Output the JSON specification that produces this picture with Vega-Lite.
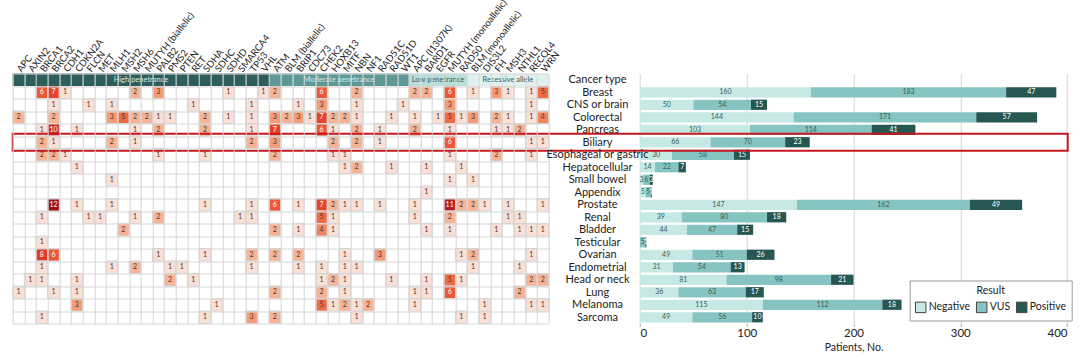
{
  "$schema": "https://vega.github.io/schema/vega-lite/v6.json",
  "width": 1055,
  "height": 250,
  "autosize": {"type": "none"},
  "padding": {"left": 12.7, "top": 73.5, "right": 12.3, "bottom": 35.5},
  "config": {
    "font": "Lato",
    "view": {"stroke": null},
    "axis": {"gridColor": "#d6d6d6", "gridWidth": 1, "labelColor": "#222", "titleColor": "#222"}
  },
  "datasets": {
    "genes": [
      {"g": "APC", "grp": "High", "c": "Cancer type"}, {"g": "AXIN2", "grp": "High", "c": "Cancer type"}, {"g": "BRCA1", "grp": "High", "c": "Cancer type"}, {"g": "BRCA2", "grp": "High", "c": "Cancer type"}, {"g": "CDH1", "grp": "High", "c": "Cancer type"}, {"g": "CDKN2A", "grp": "High", "c": "Cancer type"}, {"g": "FLCN", "grp": "High", "c": "Cancer type"}, {"g": "MET", "grp": "High", "c": "Cancer type"}, {"g": "MLH1", "grp": "High", "c": "Cancer type"}, {"g": "MSH2", "grp": "High", "c": "Cancer type"}, {"g": "MSH6", "grp": "High", "c": "Cancer type"}, {"g": "MUTYH (biallelic)", "grp": "High", "c": "Cancer type"}, {"g": "PALB2", "grp": "High", "c": "Cancer type"}, {"g": "PMS2", "grp": "High", "c": "Cancer type"}, {"g": "PTEN", "grp": "High", "c": "Cancer type"}, {"g": "RET", "grp": "High", "c": "Cancer type"}, {"g": "SDHA", "grp": "High", "c": "Cancer type"}, {"g": "SDHC", "grp": "High", "c": "Cancer type"}, {"g": "SDHD", "grp": "High", "c": "Cancer type"}, {"g": "SMARCA4", "grp": "High", "c": "Cancer type"}, {"g": "TP53", "grp": "High", "c": "Cancer type"}, {"g": "VHL", "grp": "High", "c": "Cancer type"},
      {"g": "ATM", "grp": "Moderate", "c": "Cancer type"}, {"g": "BLM (biallelic)", "grp": "Moderate", "c": "Cancer type"}, {"g": "BRIP1", "grp": "Moderate", "c": "Cancer type"}, {"g": "CDC73", "grp": "Moderate", "c": "Cancer type"}, {"g": "CHEK2", "grp": "Moderate", "c": "Cancer type"}, {"g": "HOXB13", "grp": "Moderate", "c": "Cancer type"}, {"g": "MITF", "grp": "Moderate", "c": "Cancer type"}, {"g": "NBN", "grp": "Moderate", "c": "Cancer type"}, {"g": "NF1", "grp": "Moderate", "c": "Cancer type"}, {"g": "RAD51C", "grp": "Moderate", "c": "Cancer type"}, {"g": "RAD51D", "grp": "Moderate", "c": "Cancer type"}, {"g": "WT1", "grp": "Moderate", "c": "Cancer type"},
      {"g": "APC (I1307K)", "grp": "Low", "c": "Cancer type"}, {"g": "BARD1", "grp": "Low", "c": "Cancer type"}, {"g": "EGFR", "grp": "Low", "c": "Cancer type"}, {"g": "MUTYH (monoallelic)", "grp": "Low", "c": "Cancer type"}, {"g": "RAD50", "grp": "Low", "c": "Cancer type"},
      {"g": "BLM (monoallelic)", "grp": "Recessive", "c": "Cancer type"}, {"g": "DIS3L2", "grp": "Recessive", "c": "Cancer type"}, {"g": "FH", "grp": "Recessive", "c": "Cancer type"}, {"g": "MSH3", "grp": "Recessive", "c": "Cancer type"}, {"g": "NTHL1", "grp": "Recessive", "c": "Cancer type"}, {"g": "RECQL4", "grp": "Recessive", "c": "Cancer type"}, {"g": "WRN", "grp": "Recessive", "c": "Cancer type"}
    ],
    "cells": [
      {"c": "Breast", "g": "BRCA1", "n": 6}, {"c": "Breast", "g": "BRCA2", "n": 7}, {"c": "Breast", "g": "CDH1", "n": 1}, {"c": "Breast", "g": "MSH6", "n": 2}, {"c": "Breast", "g": "PALB2", "n": 3}, {"c": "Breast", "g": "SDHD", "n": 1}, {"c": "Breast", "g": "VHL", "n": 1}, {"c": "Breast", "g": "ATM", "n": 2}, {"c": "Breast", "g": "CHEK2", "n": 6}, {"c": "Breast", "g": "NBN", "n": 2}, {"c": "Breast", "g": "APC (I1307K)", "n": 2}, {"c": "Breast", "g": "BARD1", "n": 2}, {"c": "Breast", "g": "MUTYH (monoallelic)", "n": 6}, {"c": "Breast", "g": "BLM (monoallelic)", "n": 1}, {"c": "Breast", "g": "FH", "n": 3}, {"c": "Breast", "g": "MSH3", "n": 1}, {"c": "Breast", "g": "RECQL4", "n": 1}, {"c": "Breast", "g": "WRN", "n": 5},
      {"c": "CNS or brain", "g": "BRCA2", "n": 1}, {"c": "CNS or brain", "g": "FLCN", "n": 1}, {"c": "CNS or brain", "g": "MLH1", "n": 1}, {"c": "CNS or brain", "g": "RET", "n": 1}, {"c": "CNS or brain", "g": "TP53", "n": 1}, {"c": "CNS or brain", "g": "BRIP1", "n": 1}, {"c": "CNS or brain", "g": "CHEK2", "n": 3}, {"c": "CNS or brain", "g": "NBN", "n": 1}, {"c": "CNS or brain", "g": "WT1", "n": 1}, {"c": "CNS or brain", "g": "MUTYH (monoallelic)", "n": 3}, {"c": "CNS or brain", "g": "RECQL4", "n": 1},
      {"c": "Colorectal", "g": "APC", "n": 2}, {"c": "Colorectal", "g": "BRCA2", "n": 2}, {"c": "Colorectal", "g": "MLH1", "n": 3}, {"c": "Colorectal", "g": "MSH2", "n": 5}, {"c": "Colorectal", "g": "MSH6", "n": 2}, {"c": "Colorectal", "g": "MUTYH (biallelic)", "n": 2}, {"c": "Colorectal", "g": "PALB2", "n": 1}, {"c": "Colorectal", "g": "PMS2", "n": 1}, {"c": "Colorectal", "g": "SDHA", "n": 2}, {"c": "Colorectal", "g": "SDHD", "n": 1}, {"c": "Colorectal", "g": "TP53", "n": 1}, {"c": "Colorectal", "g": "ATM", "n": 3}, {"c": "Colorectal", "g": "BLM (biallelic)", "n": 2}, {"c": "Colorectal", "g": "BRIP1", "n": 3}, {"c": "Colorectal", "g": "CDC73", "n": 1}, {"c": "Colorectal", "g": "CHEK2", "n": 7}, {"c": "Colorectal", "g": "HOXB13", "n": 2}, {"c": "Colorectal", "g": "MITF", "n": 2}, {"c": "Colorectal", "g": "NBN", "n": 1}, {"c": "Colorectal", "g": "RAD51D", "n": 1}, {"c": "Colorectal", "g": "APC (I1307K)", "n": 1}, {"c": "Colorectal", "g": "EGFR", "n": 1}, {"c": "Colorectal", "g": "MUTYH (monoallelic)", "n": 5}, {"c": "Colorectal", "g": "RAD50", "n": 1}, {"c": "Colorectal", "g": "BLM (monoallelic)", "n": 3}, {"c": "Colorectal", "g": "FH", "n": 2}, {"c": "Colorectal", "g": "MSH3", "n": 1}, {"c": "Colorectal", "g": "RECQL4", "n": 1}, {"c": "Colorectal", "g": "WRN", "n": 4},
      {"c": "Pancreas", "g": "BRCA1", "n": 1}, {"c": "Pancreas", "g": "BRCA2", "n": 10}, {"c": "Pancreas", "g": "CDKN2A", "n": 1}, {"c": "Pancreas", "g": "MSH6", "n": 1}, {"c": "Pancreas", "g": "PALB2", "n": 2}, {"c": "Pancreas", "g": "SDHA", "n": 2}, {"c": "Pancreas", "g": "TP53", "n": 1}, {"c": "Pancreas", "g": "ATM", "n": 7}, {"c": "Pancreas", "g": "CHEK2", "n": 6}, {"c": "Pancreas", "g": "HOXB13", "n": 1}, {"c": "Pancreas", "g": "NBN", "n": 2}, {"c": "Pancreas", "g": "RAD51C", "n": 1}, {"c": "Pancreas", "g": "APC (I1307K)", "n": 2}, {"c": "Pancreas", "g": "MUTYH (monoallelic)", "n": 1}, {"c": "Pancreas", "g": "FH", "n": 1}, {"c": "Pancreas", "g": "MSH3", "n": 1}, {"c": "Pancreas", "g": "NTHL1", "n": 2},
      {"c": "Biliary", "g": "BRCA1", "n": 2}, {"c": "Biliary", "g": "BRCA2", "n": 1}, {"c": "Biliary", "g": "MLH1", "n": 2}, {"c": "Biliary", "g": "MSH6", "n": 1}, {"c": "Biliary", "g": "TP53", "n": 2}, {"c": "Biliary", "g": "ATM", "n": 3}, {"c": "Biliary", "g": "HOXB13", "n": 2}, {"c": "Biliary", "g": "NBN", "n": 2}, {"c": "Biliary", "g": "RAD51C", "n": 1}, {"c": "Biliary", "g": "MUTYH (monoallelic)", "n": 6}, {"c": "Biliary", "g": "RECQL4", "n": 1}, {"c": "Biliary", "g": "WRN", "n": 1},
      {"c": "Esophageal or gastric", "g": "BRCA1", "n": 2}, {"c": "Esophageal or gastric", "g": "BRCA2", "n": 2}, {"c": "Esophageal or gastric", "g": "CDH1", "n": 1}, {"c": "Esophageal or gastric", "g": "PALB2", "n": 1}, {"c": "Esophageal or gastric", "g": "SDHA", "n": 1}, {"c": "Esophageal or gastric", "g": "ATM", "n": 2}, {"c": "Esophageal or gastric", "g": "HOXB13", "n": 1}, {"c": "Esophageal or gastric", "g": "MITF", "n": 1}, {"c": "Esophageal or gastric", "g": "MUTYH (monoallelic)", "n": 1}, {"c": "Esophageal or gastric", "g": "FH", "n": 2}, {"c": "Esophageal or gastric", "g": "RECQL4", "n": 1},
      {"c": "Hepatocellular", "g": "CDKN2A", "n": 1}, {"c": "Hepatocellular", "g": "MITF", "n": 1}, {"c": "Hepatocellular", "g": "NBN", "n": 2}, {"c": "Hepatocellular", "g": "RAD51D", "n": 1}, {"c": "Hepatocellular", "g": "BARD1", "n": 1}, {"c": "Hepatocellular", "g": "RAD50", "n": 1},
      {"c": "Small bowel", "g": "MLH1", "n": 1}, {"c": "Small bowel", "g": "MUTYH (monoallelic)", "n": 1}, {"c": "Small bowel", "g": "BLM (monoallelic)", "n": 1},
      {"c": "Appendix", "g": "BARD1", "n": 1},
      {"c": "Prostate", "g": "BRCA2", "n": 12}, {"c": "Prostate", "g": "CDKN2A", "n": 1}, {"c": "Prostate", "g": "MLH1", "n": 1}, {"c": "Prostate", "g": "SDHA", "n": 1}, {"c": "Prostate", "g": "TP53", "n": 1}, {"c": "Prostate", "g": "ATM", "n": 6}, {"c": "Prostate", "g": "BRIP1", "n": 1}, {"c": "Prostate", "g": "CHEK2", "n": 7}, {"c": "Prostate", "g": "HOXB13", "n": 2}, {"c": "Prostate", "g": "MITF", "n": 1}, {"c": "Prostate", "g": "NBN", "n": 1}, {"c": "Prostate", "g": "RAD51C", "n": 1}, {"c": "Prostate", "g": "APC (I1307K)", "n": 1}, {"c": "Prostate", "g": "MUTYH (monoallelic)", "n": 11}, {"c": "Prostate", "g": "RAD50", "n": 2}, {"c": "Prostate", "g": "BLM (monoallelic)", "n": 2}, {"c": "Prostate", "g": "DIS3L2", "n": 1}, {"c": "Prostate", "g": "MSH3", "n": 1}, {"c": "Prostate", "g": "WRN", "n": 1},
      {"c": "Renal", "g": "BRCA1", "n": 1}, {"c": "Renal", "g": "FLCN", "n": 1}, {"c": "Renal", "g": "MET", "n": 1}, {"c": "Renal", "g": "MSH6", "n": 1}, {"c": "Renal", "g": "PALB2", "n": 2}, {"c": "Renal", "g": "SMARCA4", "n": 1}, {"c": "Renal", "g": "TP53", "n": 1}, {"c": "Renal", "g": "CHEK2", "n": 5}, {"c": "Renal", "g": "HOXB13", "n": 1}, {"c": "Renal", "g": "APC (I1307K)", "n": 1}, {"c": "Renal", "g": "MUTYH (monoallelic)", "n": 2}, {"c": "Renal", "g": "MSH3", "n": 1}, {"c": "Renal", "g": "NTHL1", "n": 1},
      {"c": "Bladder", "g": "MSH2", "n": 2}, {"c": "Bladder", "g": "ATM", "n": 2}, {"c": "Bladder", "g": "BRIP1", "n": 1}, {"c": "Bladder", "g": "CHEK2", "n": 4}, {"c": "Bladder", "g": "HOXB13", "n": 1}, {"c": "Bladder", "g": "BARD1", "n": 1}, {"c": "Bladder", "g": "MUTYH (monoallelic)", "n": 1}, {"c": "Bladder", "g": "FH", "n": 1}, {"c": "Bladder", "g": "NTHL1", "n": 1}, {"c": "Bladder", "g": "RECQL4", "n": 1}, {"c": "Bladder", "g": "WRN", "n": 1},
      {"c": "Testicular", "g": "BRCA1", "n": 1},
      {"c": "Ovarian", "g": "BRCA1", "n": 8}, {"c": "Ovarian", "g": "BRCA2", "n": 6}, {"c": "Ovarian", "g": "PALB2", "n": 1}, {"c": "Ovarian", "g": "SDHA", "n": 1}, {"c": "Ovarian", "g": "TP53", "n": 2}, {"c": "Ovarian", "g": "ATM", "n": 2}, {"c": "Ovarian", "g": "BRIP1", "n": 2}, {"c": "Ovarian", "g": "MITF", "n": 1}, {"c": "Ovarian", "g": "RAD51C", "n": 3}, {"c": "Ovarian", "g": "RAD50", "n": 1}, {"c": "Ovarian", "g": "BLM (monoallelic)", "n": 2}, {"c": "Ovarian", "g": "RECQL4", "n": 1},
      {"c": "Endometrial", "g": "BRCA1", "n": 1}, {"c": "Endometrial", "g": "MLH1", "n": 1}, {"c": "Endometrial", "g": "MSH6", "n": 2}, {"c": "Endometrial", "g": "PMS2", "n": 1}, {"c": "Endometrial", "g": "PTEN", "n": 1}, {"c": "Endometrial", "g": "TP53", "n": 1}, {"c": "Endometrial", "g": "BRIP1", "n": 1}, {"c": "Endometrial", "g": "CHEK2", "n": 1}, {"c": "Endometrial", "g": "MITF", "n": 1}, {"c": "Endometrial", "g": "NBN", "n": 1}, {"c": "Endometrial", "g": "BLM (monoallelic)", "n": 1}, {"c": "Endometrial", "g": "NTHL1", "n": 1},
      {"c": "Head or neck", "g": "AXIN2", "n": 1}, {"c": "Head or neck", "g": "BRCA1", "n": 1}, {"c": "Head or neck", "g": "CDKN2A", "n": 1}, {"c": "Head or neck", "g": "PMS2", "n": 2}, {"c": "Head or neck", "g": "RET", "n": 1}, {"c": "Head or neck", "g": "CHEK2", "n": 1}, {"c": "Head or neck", "g": "HOXB13", "n": 2}, {"c": "Head or neck", "g": "MITF", "n": 1}, {"c": "Head or neck", "g": "RAD51D", "n": 1}, {"c": "Head or neck", "g": "BARD1", "n": 1}, {"c": "Head or neck", "g": "MUTYH (monoallelic)", "n": 5}, {"c": "Head or neck", "g": "RAD50", "n": 1}, {"c": "Head or neck", "g": "RECQL4", "n": 2}, {"c": "Head or neck", "g": "WRN", "n": 2},
      {"c": "Lung", "g": "APC", "n": 1}, {"c": "Lung", "g": "BRCA2", "n": 1}, {"c": "Lung", "g": "CDKN2A", "n": 1}, {"c": "Lung", "g": "ATM", "n": 2}, {"c": "Lung", "g": "CHEK2", "n": 2}, {"c": "Lung", "g": "MITF", "n": 1}, {"c": "Lung", "g": "APC (I1307K)", "n": 1}, {"c": "Lung", "g": "BARD1", "n": 1}, {"c": "Lung", "g": "MUTYH (monoallelic)", "n": 6}, {"c": "Lung", "g": "NTHL1", "n": 2},
      {"c": "Melanoma", "g": "CDKN2A", "n": 3}, {"c": "Melanoma", "g": "SDHC", "n": 1}, {"c": "Melanoma", "g": "CHEK2", "n": 5}, {"c": "Melanoma", "g": "HOXB13", "n": 1}, {"c": "Melanoma", "g": "MITF", "n": 2}, {"c": "Melanoma", "g": "NBN", "n": 1}, {"c": "Melanoma", "g": "NF1", "n": 2}, {"c": "Melanoma", "g": "APC (I1307K)", "n": 1}, {"c": "Melanoma", "g": "DIS3L2", "n": 1}, {"c": "Melanoma", "g": "RECQL4", "n": 1}, {"c": "Melanoma", "g": "WRN", "n": 1},
      {"c": "Sarcoma", "g": "BRCA1", "n": 1}, {"c": "Sarcoma", "g": "SDHA", "n": 1}, {"c": "Sarcoma", "g": "TP53", "n": 3}, {"c": "Sarcoma", "g": "ATM", "n": 2}, {"c": "Sarcoma", "g": "NBN", "n": 1}, {"c": "Sarcoma", "g": "RAD50", "n": 1}, {"c": "Sarcoma", "g": "DIS3L2", "n": 1}
    ],
    "bars": [
      {"c": "Breast", "r": "Negative", "n": 160}, {"c": "Breast", "r": "VUS", "n": 183}, {"c": "Breast", "r": "Positive", "n": 47},
      {"c": "CNS or brain", "r": "Negative", "n": 50}, {"c": "CNS or brain", "r": "VUS", "n": 54}, {"c": "CNS or brain", "r": "Positive", "n": 15},
      {"c": "Colorectal", "r": "Negative", "n": 144}, {"c": "Colorectal", "r": "VUS", "n": 171}, {"c": "Colorectal", "r": "Positive", "n": 57},
      {"c": "Pancreas", "r": "Negative", "n": 103}, {"c": "Pancreas", "r": "VUS", "n": 114}, {"c": "Pancreas", "r": "Positive", "n": 41},
      {"c": "Biliary", "r": "Negative", "n": 66}, {"c": "Biliary", "r": "VUS", "n": 70}, {"c": "Biliary", "r": "Positive", "n": 23},
      {"c": "Esophageal or gastric", "r": "Negative", "n": 30}, {"c": "Esophageal or gastric", "r": "VUS", "n": 58}, {"c": "Esophageal or gastric", "r": "Positive", "n": 15},
      {"c": "Hepatocellular", "r": "Negative", "n": 14}, {"c": "Hepatocellular", "r": "VUS", "n": 22}, {"c": "Hepatocellular", "r": "Positive", "n": 7},
      {"c": "Small bowel", "r": "Negative", "n": 3}, {"c": "Small bowel", "r": "VUS", "n": 6}, {"c": "Small bowel", "r": "Positive", "n": 3},
      {"c": "Appendix", "r": "Negative", "n": 5}, {"c": "Appendix", "r": "VUS", "n": 5}, {"c": "Appendix", "r": "Positive", "n": 1},
      {"c": "Prostate", "r": "Negative", "n": 147}, {"c": "Prostate", "r": "VUS", "n": 162}, {"c": "Prostate", "r": "Positive", "n": 49},
      {"c": "Renal", "r": "Negative", "n": 39}, {"c": "Renal", "r": "VUS", "n": 80}, {"c": "Renal", "r": "Positive", "n": 18},
      {"c": "Bladder", "r": "Negative", "n": 44}, {"c": "Bladder", "r": "VUS", "n": 47}, {"c": "Bladder", "r": "Positive", "n": 15},
      {"c": "Testicular", "r": "VUS", "n": 5}, {"c": "Testicular", "r": "Positive", "n": 1},
      {"c": "Ovarian", "r": "Negative", "n": 49}, {"c": "Ovarian", "r": "VUS", "n": 51}, {"c": "Ovarian", "r": "Positive", "n": 26},
      {"c": "Endometrial", "r": "Negative", "n": 31}, {"c": "Endometrial", "r": "VUS", "n": 54}, {"c": "Endometrial", "r": "Positive", "n": 13},
      {"c": "Head or neck", "r": "Negative", "n": 81}, {"c": "Head or neck", "r": "VUS", "n": 98}, {"c": "Head or neck", "r": "Positive", "n": 21},
      {"c": "Lung", "r": "Negative", "n": 36}, {"c": "Lung", "r": "VUS", "n": 63}, {"c": "Lung", "r": "Positive", "n": 17},
      {"c": "Melanoma", "r": "Negative", "n": 115}, {"c": "Melanoma", "r": "VUS", "n": 112}, {"c": "Melanoma", "r": "Positive", "n": 18},
      {"c": "Sarcoma", "r": "Negative", "n": 49}, {"c": "Sarcoma", "r": "VUS", "n": 56}, {"c": "Sarcoma", "r": "Positive", "n": 10}
    ]
  },
  "encoding": {
    "y": {
      "field": "c", "type": "nominal",
      "scale": {"domain": ["Cancer type", "Breast", "CNS or brain", "Colorectal", "Pancreas", "Biliary", "Esophageal or gastric", "Hepatocellular", "Small bowel", "Appendix", "Prostate", "Renal", "Bladder", "Testicular", "Ovarian", "Endometrial", "Head or neck", "Lung", "Melanoma", "Sarcoma"], "paddingInner": 0, "paddingOuter": 0},
      "axis": {"title": null, "orient": "left", "offset": -584.3, "labelAlign": "center", "labelPadding": 0, "ticks": false, "domain": false, "grid": true, "tickBand": "extent", "labelFontSize": 11, "labelLimit": 200}
    }
  },
  "layer": [
    {
      "encoding": {
        "x": {
          "field": "g", "type": "nominal",
          "scale": {"domain": ["APC", "AXIN2", "BRCA1", "BRCA2", "CDH1", "CDKN2A", "FLCN", "MET", "MLH1", "MSH2", "MSH6", "MUTYH (biallelic)", "PALB2", "PMS2", "PTEN", "RET", "SDHA", "SDHC", "SDHD", "SMARCA4", "TP53", "VHL", "ATM", "BLM (biallelic)", "BRIP1", "CDC73", "CHEK2", "HOXB13", "MITF", "NBN", "NF1", "RAD51C", "RAD51D", "WT1", "APC (I1307K)", "BARD1", "EGFR", "MUTYH (monoallelic)", "RAD50", "BLM (monoallelic)", "DIS3L2", "FH", "MSH3", "NTHL1", "RECQL4", "WRN"], "range": [0, 536], "paddingInner": 0, "paddingOuter": 0},
          "axis": {"title": null, "orient": "top", "labelAngle": -52, "labelAlign": "left", "labelBaseline": "middle", "labelPadding": 3, "ticks": false, "domain": false, "grid": true, "tickBand": "extent", "labelFontSize": 9.5, "labelLimit": 200}
        }
      },
      "layer": [
        {
          "data": {"name": "cells"},
          "mark": {"type": "rect", "stroke": "#d6d6d6", "strokeWidth": 1},
          "encoding": {
            "color": {"field": "n", "type": "quantitative", "legend": null,
              "scale": {"type": "linear", "domain": [1, 2, 3, 5, 7, 10, 12], "range": ["#fde0d5", "#f7b393", "#f59c76", "#f06a43", "#e8432b", "#d42a21", "#9c0f15"]}}
          }
        },
        {
          "data": {"name": "cells"},
          "mark": {"type": "text", "fontSize": 7},
          "encoding": {
            "text": {"field": "n", "type": "quantitative"},
            "color": {"condition": {"test": "datum.n >= 6", "value": "#ffffff"}, "value": "#4a3a36"}
          }
        },
        {
          "data": {"name": "genes"},
          "mark": {"type": "rect"},
          "encoding": {
            "fill": {"field": "grp", "type": "nominal", "legend": null,
              "scale": {"domain": ["High", "Moderate", "Low", "Recessive"], "range": ["#2d5e5b", "#5d9895", "#b8dedb", "#dff0ee"]}}
          }
        },
        {
          "data": {"values": [{"g": "MUTYH (biallelic)", "t": "High penetrance", "c": "Cancer type"}, {"g": "MITF", "t": "Moderate penetrance", "c": "Cancer type"}]},
          "mark": {"type": "text", "fontSize": 7.5, "dx": -5.8, "color": "#d4e9e7"},
          "encoding": {"text": {"field": "t"}}
        },
        {
          "data": {"values": [{"g": "EGFR", "t": "Low penetrance", "c": "Cancer type"}, {"g": "MSH3", "t": "Recessive allele", "c": "Cancer type"}]},
          "mark": {"type": "text", "fontSize": 7.5, "color": "#3b5c5a"},
          "encoding": {"text": {"field": "t"}}
        }
      ]
    },
    {
      "data": {"name": "bars"},
      "transform": [{"calculate": "indexof(['Negative','VUS','Positive'], datum.r)", "as": "k"}],
      "layer": [
        {
          "mark": {"type": "bar", "height": {"band": 0.82}},
          "encoding": {
            "x": {"field": "n", "type": "quantitative", "stack": "zero", "title": "Patients, No.",
              "scale": {"domain": [0, 400], "range": [627.3, 1054.3], "nice": false},
              "axis": {"orient": "bottom", "values": [0, 100, 200, 300, 400], "grid": true, "domain": false, "tickSize": 3, "tickColor": "#aaa", "labelPadding": 1, "labelFontSize": 11.5, "titleFontSize": 10.5, "titleFontWeight": "normal", "titlePadding": 3}},
            "color": {"field": "r", "type": "nominal", "sort": ["Negative", "VUS", "Positive"],
              "scale": {"domain": ["Negative", "VUS", "Positive"], "range": ["#c6e9e5", "#86c4c1", "#275753"]},
              "legend": {"orient": "none", "legendX": 897, "legendY": 207, "direction": "horizontal", "title": "Result", "titleAnchor": "middle", "titleFontSize": 10.5, "titleFontWeight": "normal", "titleColor": "#222", "labelFontSize": 10.5, "labelColor": "#222", "strokeColor": "#999", "fillColor": "#ffffff", "padding": 5, "symbolType": "square", "symbolSize": 110, "symbolStrokeColor": "#444", "symbolStrokeWidth": 1, "columnPadding": 3, "labelOffset": 2}},
            "order": {"field": "k", "type": "quantitative"}
          }
        },
        {
          "mark": {"type": "text", "fontSize": 7},
          "encoding": {
            "x": {"field": "n", "type": "quantitative", "stack": "zero", "bandPosition": 0.5, "title": "Patients, No."},
            "detail": {"field": "r"},
            "order": {"field": "k", "type": "quantitative"},
            "text": {"field": "n", "type": "quantitative"},
            "color": {"condition": {"test": "datum.r === 'Positive'", "value": "#ffffff"}, "value": "#3d5e5b"}
          }
        }
      ]
    },
    {
      "data": {"values": [{"c": "Biliary"}]},
      "mark": {"type": "rect", "fill": null, "stroke": "#c8171e", "strokeWidth": 2, "height": {"band": 1.36}}
    }
  ],
  "resolve": {"scale": {"x": "independent", "color": "independent"}, "axis": {"x": "independent"}}
}
